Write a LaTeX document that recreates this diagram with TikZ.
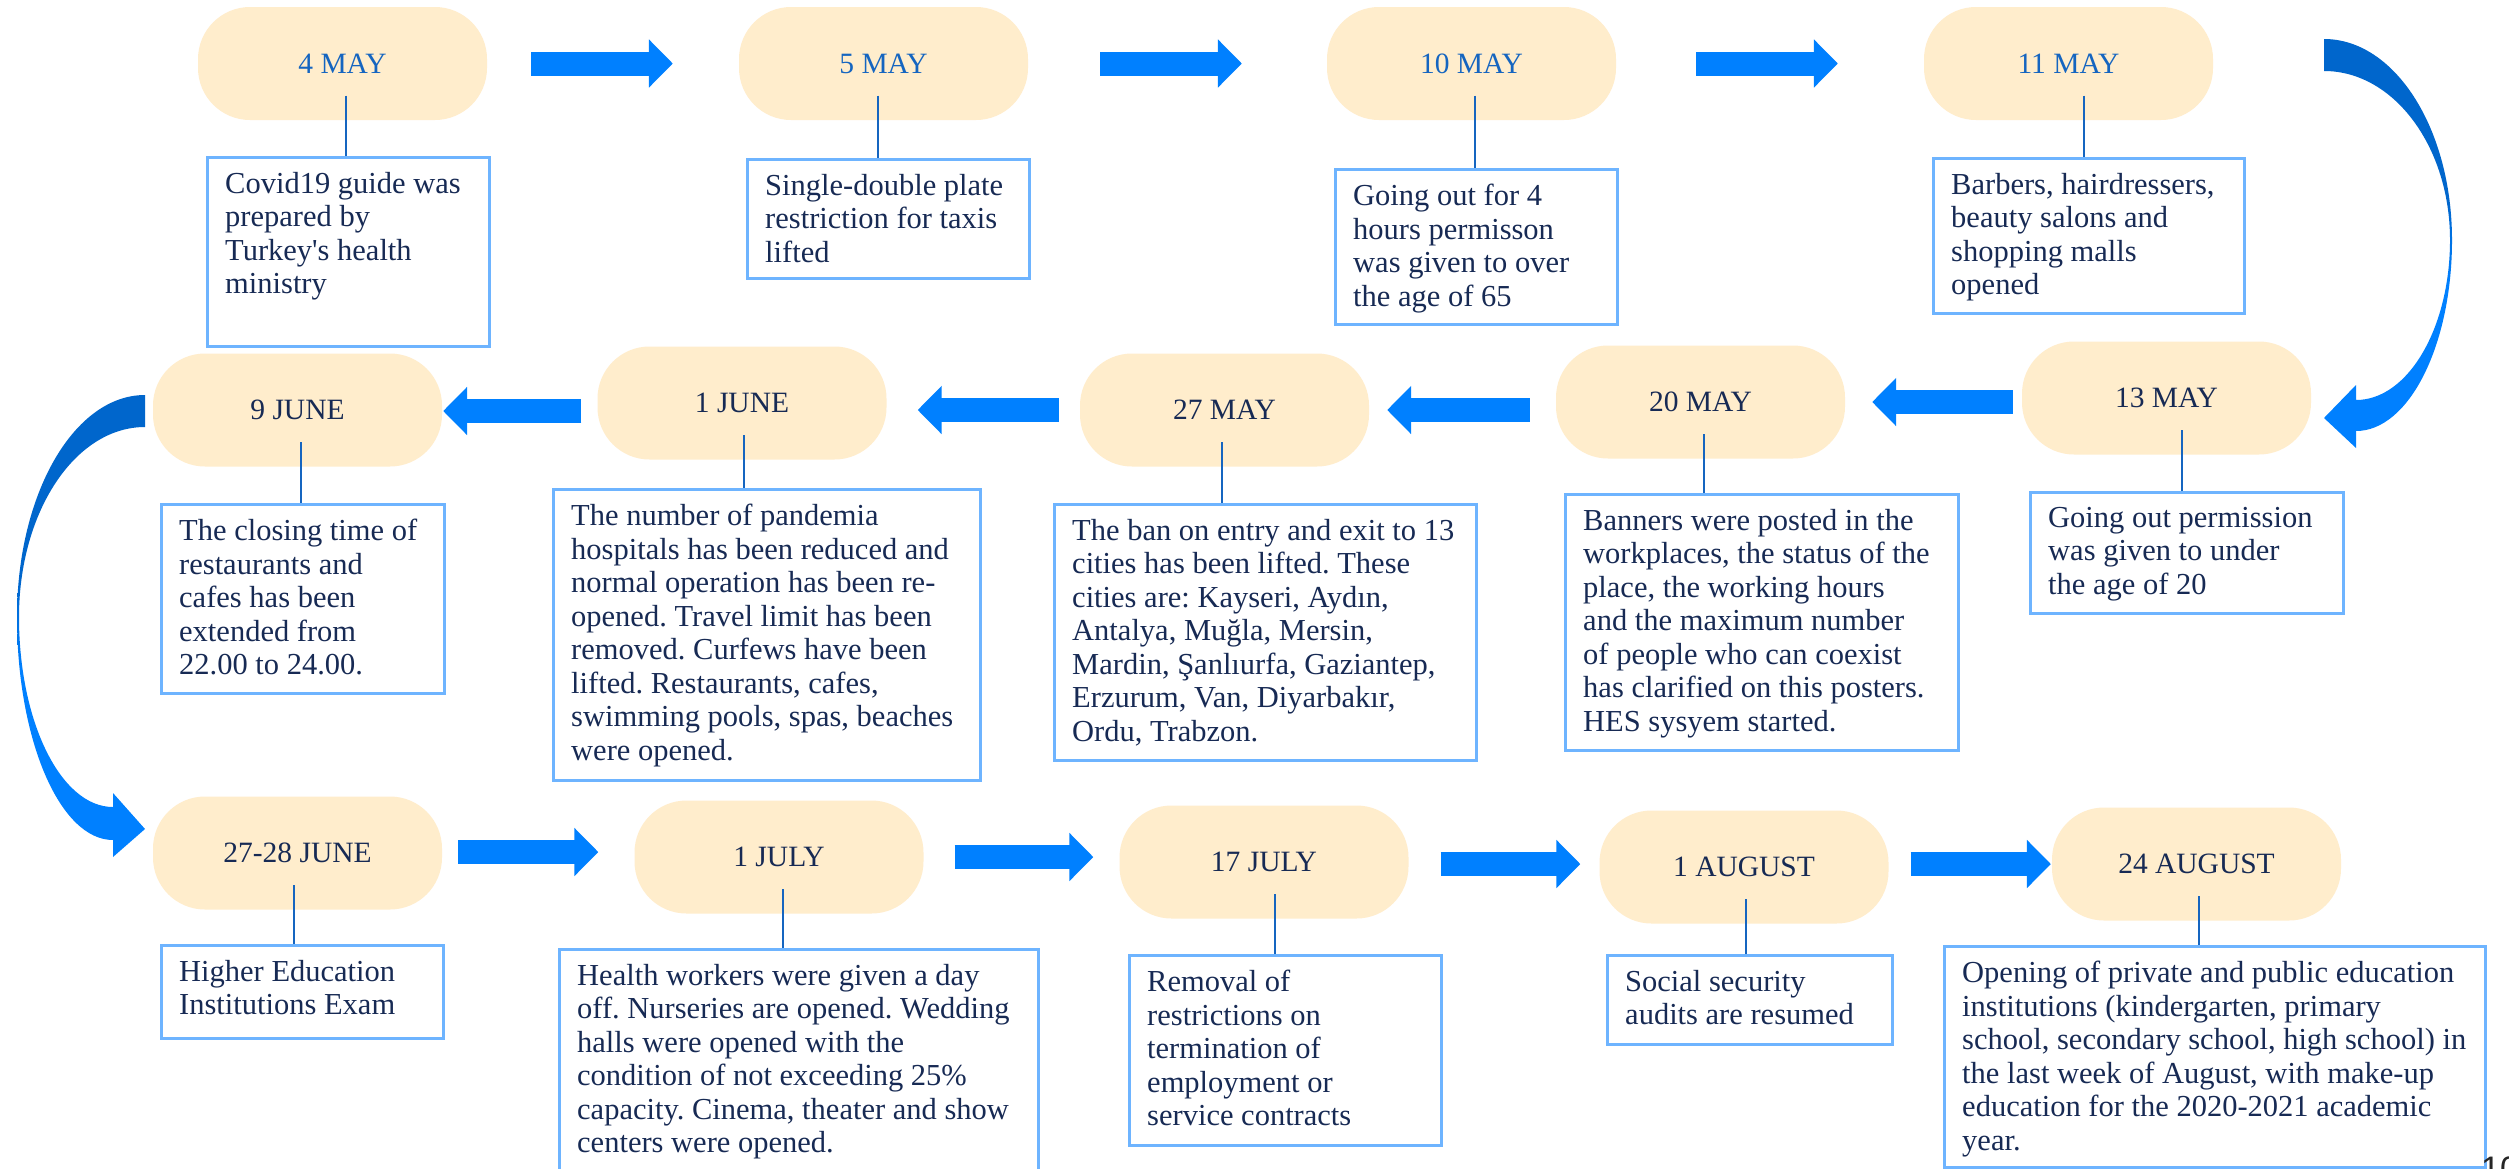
\documentclass[tikz,border=0pt]{standalone}
\usepackage{fontspec}
\setmainfont{Liberation Serif}
\newfontfamily\pagenumfont{Liberation Sans}
\usetikzlibrary{arrows.meta,calc}
\frenchspacing
\definecolor{pillfill}{RGB}{255,237,204}
\definecolor{dateblue}{RGB}{21,101,192}
\definecolor{navy}{RGB}{23,42,84}
\definecolor{boxline}{RGB}{110,180,255}
\definecolor{connline}{RGB}{21,101,192}
\definecolor{arrowblue}{RGB}{0,128,255}
\definecolor{curvedark}{RGB}{0,102,204}
\pgfdeclareverticalshading{curveshade}{100bp}{color(0bp)=(arrowblue); color(25bp)=(arrowblue); color(45bp)=(arrowblue); color(55bp)=(curvedark); color(75bp)=(curvedark); color(100bp)=(curvedark)}
\tikzset{
  pill/.style={fill=pillfill, rounded corners=52pt, minimum width=289pt, minimum height=113pt, inner sep=0pt, text=navy, font=\fontsize{29.5}{33}\selectfont},
  toppill/.style={pill, text=dateblue},
  infobox/.style={draw=boxline, line width=2.5pt, fill=white, anchor=north west, inner sep=0pt},
  infotext/.style={anchor=north west, inner sep=0pt, align=left, text=navy, font=\fontsize{30.5}{33.5}\selectfont},
  conn/.style={draw=connline, line width=2pt},
  barrow/.style={draw=arrowblue, line width=24pt, -{Triangle[length=24pt,width=47pt]}},
}
\newcommand{\ibox}[6]{%
  \node[infobox, minimum width={#4-#2}, minimum height={#5-#3}] (#1) at (#2,#3) {};
  \node[infotext] (#1t) at ($(#1.north west)+(19,16)$) {#6};
}
\begin{document}
\begin{tikzpicture}[x=1pt,y=-1pt]
\useasboundingbox (0,0) rectangle (2509,1168);
\fill[white] (0,0) rectangle (2509,1168);

% ---------- curved arrows ----------
\shade[shading=curveshade] (2324,39) .. controls (2395,39) and (2452,129) .. (2452,240)
  .. controls (2452,345) and (2409,431) .. (2356,431) -- (2356,448) -- (2324,418) -- (2356,385) -- (2356,400)
  .. controls (2408,400) and (2450,328) .. (2450,240)
  .. controls (2450,147) and (2394,71) .. (2324,71) -- cycle;
\shade[shading=curveshade] (145,395) .. controls (74,395) and (17,494) .. (17,617)
  .. controls (17,740) and (60,840) .. (113,840) -- (113,857) -- (145,829) -- (113,793) -- (113,807)
  .. controls (61,807) and (19,722) .. (19,617)
  .. controls (19,512) and (75,427) .. (145,427) -- cycle;

% ---------- pills ----------
\node[toppill] (p1) at (342.5,63.5) {4 MAY};
\node[toppill] (p2) at (883.5,63.5) {5 MAY};
\node[toppill] (p3) at (1471.5,63.5) {10 MAY};
\node[toppill] (p4) at (2068.5,63.5) {11 MAY};
\node[pill] (p5) at (2166.5,398) {13 MAY};
\node[pill] (p6) at (1700.5,402) {20 MAY};
\node[pill] (p7) at (1224.5,410) {27 MAY};
\node[pill] (p8) at (742,403) {1 JUNE};
\node[pill] (p9) at (297.5,410) {9 JUNE};
\node[pill] (p10) at (297.5,853) {27-28 JUNE};
\node[pill] (p11) at (779,857) {1 JULY};
\node[pill] (p12) at (1264,862) {17 JULY};
\node[pill] (p13) at (1744,867) {1 AUGUST};
\node[pill] (p14) at (2196.5,864) {24 AUGUST};

% ---------- boxes ----------
\ibox{b1}{206}{156}{488}{345}{Covid19 guide was\\prepared by\\Turkey\textquotesingle s health\\ministry}
\ibox{b2}{746}{158}{1028}{277}{Single-double plate\\restriction for taxis\\lifted}
\ibox{b3}{1334}{168}{1616}{323}{Going out for 4\\hours permisson\\was given to over\\the age of 65}
\ibox{b4}{1932}{157}{2243}{312}{Barbers, hairdressers,\\beauty salons and\\shopping malls\\opened}
\ibox{b5}{2029}{491}{2342}{612}{Going out permission\\was given to under\\the age of 20}
\ibox{b6}{1564}{493}{1957}{749}{Banners were posted in the\\workplaces, the status of the\\place, the working hours\\and the maximum number\\of people who can coexist\\has clarified on this posters.\\HES sysyem started.}
\ibox{b7}{1053}{503}{1475}{759}{The ban on entry and exit to 13\\cities has been lifted. These\\cities are: Kayseri, Aydın,\\Antalya, Muğla, Mersin,\\Mardin, Şanlıurfa, Gaziantep,\\Erzurum, Van, Diyarbakır,\\Ordu, Trabzon.}
\ibox{b8}{552}{488}{979}{779}{The number of pandemia\\hospitals has been reduced and\\normal operation has been re-\\opened. Travel limit has been\\removed. Curfews have been\\lifted. Restaurants, cafes,\\swimming pools, spas, beaches\\were opened.}
\ibox{b9}{160}{503}{443}{692}{The closing time of\\restaurants and\\cafes has been\\extended from\\22.00 to 24.00.}
\ibox{b10}{160}{944}{442}{1037}{Higher Education\\Institutions Exam}
\ibox{b11}{558}{948}{1037}{1180}{Health workers were given a day\\off. Nurseries are opened. Wedding\\halls were opened with the\\condition of not exceeding 25\%\\capacity. Cinema, theater and show\\centers were opened.}
\ibox{b12}{1128}{954}{1440}{1144}{Removal of\\restrictions on\\termination of\\employment or\\service contracts}
\ibox{b13}{1606}{954}{1891}{1043}{Social security\\audits are resumed}
\ibox{b14}{1943}{945}{2484}{1166}{Opening of private and public education\\institutions (kindergarten, primary\\school, secondary school, high school) in\\the last week of August, with make-up\\education for the 2020-2021 academic\\year.}

% ---------- connectors pill -> box ----------
\coordinate (k1) at ($(p1.center)+(3.5,32)$);
\coordinate (k2) at ($(p2.center)+(-5.5,32)$);
\coordinate (k3) at ($(p3.center)+(3.5,32)$);
\coordinate (k4) at ($(p4.center)+(15.5,32)$);
\coordinate (k5) at ($(p5.center)+(15.5,32)$);
\coordinate (k6) at ($(p6.center)+(3.5,32)$);
\coordinate (k7) at ($(p7.center)+(-2.5,32)$);
\coordinate (k8) at ($(p8.center)+(2,32)$);
\coordinate (k9) at ($(p9.center)+(3.5,32)$);
\coordinate (k10) at ($(p10.center)+(-4,32)$);
\coordinate (k11) at ($(p11.center)+(4,32)$);
\coordinate (k12) at ($(p12.center)+(11,32)$);
\coordinate (k13) at ($(p13.center)+(2,32)$);
\coordinate (k14) at ($(p14.center)+(2.5,32)$);
\foreach \i in {1,...,14}{\draw[conn] (k\i) -- (k\i |- b\i.north);}

% ---------- block arrows ----------
\draw[barrow] ($(p1.east)+(44,0)$) -- ($(p2.west)+(-66,0)$);
\draw[barrow] ($(p2.east)+(72,0)$) -- ($(p3.west)+(-85,0)$);
\draw[barrow] ($(p3.east)+(80,0)$) -- ($(p4.west)+(-86,0)$);
\draw[barrow] ($(p5.west)+(-9,4)$) -- ($(p6.east)+(27,0)$);
\draw[barrow] ($(p6.west)+(-26,8)$) -- ($(p7.east)+(18,0)$);
\draw[barrow] ($(p7.west)+(-21,0)$) -- ($(p8.east)+(31,7)$);
\draw[barrow] ($(p8.west)+(-16,8)$) -- ($(p9.east)+(1,1)$);
\draw[barrow] ($(p10.east)+(16,-1)$) -- ($(p11.west)+(-36,-5)$);
\draw[barrow] ($(p11.east)+(31,0)$) -- ($(p12.west)+(-26,-5)$);
\draw[barrow] ($(p12.east)+(32,2)$) -- ($(p13.west)+(-19,-3)$);
\draw[barrow] ($(p13.east)+(22,-3)$) -- ($(p14.west)+(-1,0)$);

% ---------- page number (cut off at the bottom edge, as in the reference) ----------
\node[anchor=north west, inner sep=0pt, text=black!85, font=\pagenumfont\fontsize{34}{34}\selectfont] (pg) at (2481,1157) {10};
\end{tikzpicture}
\end{document}
